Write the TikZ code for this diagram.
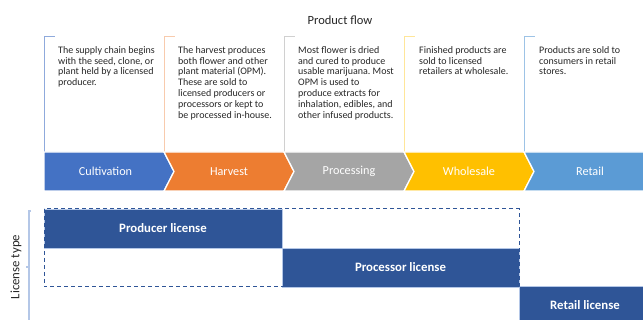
\documentclass[tikz,border=0pt]{standalone}
\usepackage{fontspec}
\setmainfont{Carlito}
\frenchspacing
\definecolor{txt}{HTML}{262626}
\definecolor{cCult}{HTML}{4472C4}
\definecolor{cHarv}{HTML}{ED7D31}
\definecolor{cProc}{HTML}{A5A5A5}
\definecolor{cWhol}{HTML}{FFC000}
\definecolor{cReta}{HTML}{5B9BD5}
\definecolor{lCult}{HTML}{8FAADC}
\definecolor{lHarv}{HTML}{F8CBAD}
\definecolor{lProc}{HTML}{D0D0D0}
\definecolor{lWhol}{HTML}{FFE699}
\definecolor{lReta}{HTML}{9DC3E6}
\definecolor{licblue}{HTML}{2F5597}
\definecolor{licline}{HTML}{B4C7E7}
\begin{document}
\begin{tikzpicture}[x=1pt,y=-1pt,
  body/.style={font=\fontsize{10}{10.9}\selectfont\frenchspacing, align=left, anchor=north west, inner sep=0pt, text=txt},
  chevlabel/.style={font=\fontsize{12.2}{14}\selectfont, text=white, inner sep=0pt},
  bracketline/.style={line width=1pt},
  chev/.style={draw=white, line width=1.3pt},
  lic/.style={fill=licblue, draw=licline, line width=0.7pt, text=white, font=\bfseries\fontsize{12.8}{15}\selectfont, inner sep=0pt},
  dashrect/.style={draw=licblue, line width=1pt, dash pattern=on 4pt off 3pt},
]
\useasboundingbox (0,0) rectangle (643,320);
\clip (0,0) rectangle (643,320);

\node[font=\fontsize{12.5}{15}\selectfont, text=txt] (title) at (340,20) {Product flow};

% brackets
\draw[bracketline, lCult] (44,152) -- (44,37) -- (55,37);
\draw[bracketline, lHarv] (164,152) -- (164,37) -- (175,37);
\draw[bracketline, lProc] (284,152) -- (284,37) -- (295,37);
\draw[bracketline, lWhol] (404,152) -- (404,37) -- (415,37);
\draw[bracketline, lReta] (524,152) -- (524,37) -- (535,37);

% descriptions
\node[body] (t1) at (58,46) {The supply chain begins\\with the seed, clone, or\\plant held by a licensed\\producer.};
\node[body] (t2) at (178,46) {The harvest produces\\both flower and other\\plant material (OPM).\\These are sold to\\licensed producers or\\processors or kept to\\be processed in-house.};
\node[body] (t3) at (298,46) {Most flower is dried\\and cured to produce\\usable marijuana. Most\\OPM is used to\\produce extracts for\\inhalation, edibles, and\\other infused products.};
\node[body] (t4) at (419,46) {Finished products are\\sold to licensed\\retailers at wholesale.};
\node[body] (t5) at (539,46) {Products are sold to\\consumers in retail\\stores.};

% chevrons
\fill[cCult, chev] (44,152) -- (164,152) -- (174,171.5) -- (164,191) -- (44,191) -- cycle;
\fill[cHarv, chev] (164,152) -- (284,152) -- (294,171.5) -- (284,191) -- (164,191) -- (174,171.5) -- cycle;
\fill[cProc, chev] (284,152) -- (404,152) -- (414,171.5) -- (404,191) -- (284,191) -- (294,171.5) -- cycle;
\fill[cWhol, chev] (404,152) -- (524,152) -- (534,171.5) -- (524,191) -- (404,191) -- (414,171.5) -- cycle;
\fill[cReta, chev] (524,152) -- (660,152) -- (660,191) -- (524,191) -- (534,171.5) -- cycle;

\node[chevlabel] (l1) at (105.5,171.5) {Cultivation};
\node[chevlabel] (l2) at (229,171.5) {Harvest};
\node[chevlabel] (l3) at (349,171.5) {Processing};
\node[chevlabel] (l4) at (469,171.5) {Wholesale};
\node[chevlabel] (l5) at (590,171.5) {Retail};

% license section
\draw[licline, line width=1.2pt] (31,211) -- (29,211) -- (29,330);
\draw[licline, line width=1.2pt] (29,267) -- (26,267);
\node[rotate=90, font=\fontsize{12.8}{15}\selectfont, text=txt, inner sep=0pt] (lt) at (16,267) {License type};

\node[lic, minimum width=238pt, minimum height=39pt] (prod) at (163,228.5) {Producer license};
\node[lic, minimum width=237pt, minimum height=39pt] (proc) at (400.5,267.5) {Processor license};
\node[lic, minimum width=132pt, minimum height=38pt] (ret) at (585,305.5) {Retail license};
\draw[dashrect] (44,209) rectangle (519,287);
\end{tikzpicture}
\end{document}
